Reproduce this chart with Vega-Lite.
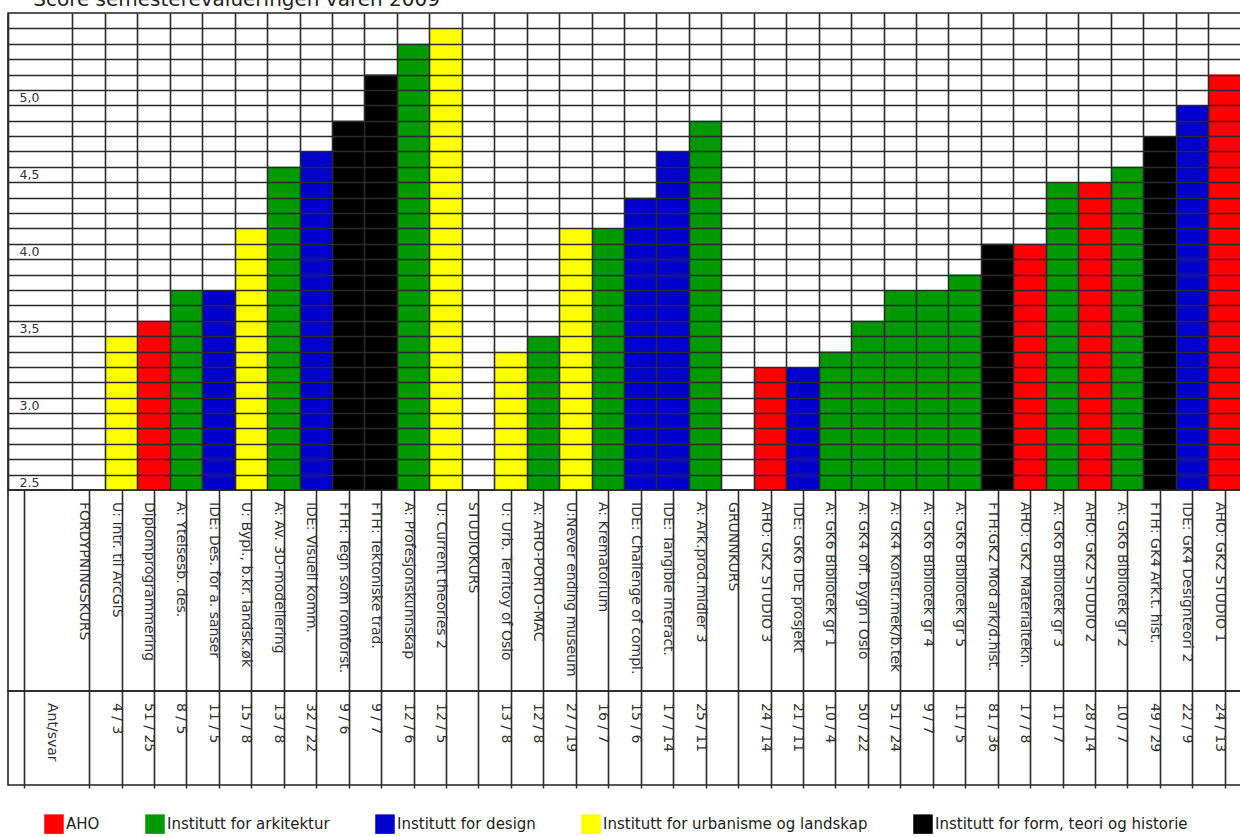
{
  "$schema": "https://vega.github.io/schema/vega-lite/v6.json",
  "padding": {"left": 7, "top": -10, "right": 0, "bottom": 0},
  "background": "white",
  "title": {"text": "Score semesterevalueringen våren 2009", "anchor": "start", "fontSize": 20, "fontWeight": "normal", "font": "DejaVu Sans", "color": "#222", "baseline": "alphabetic", "offset": -14, "dx": 26},
  "data": {"values": [
    {"kurs": "_a"},
    {"kurs": "_b", "ant": "Ant/svar"},
    {"kurs": "FORDYPNINGSKURS"},
    {"kurs": "U: Intr. til ArcGIS", "inst": "Institutt for urbanisme og landskap", "score": 3.4, "ant": "4 / 3"},
    {"kurs": "Diplomprogrammering", "inst": "AHO", "score": 3.5, "ant": "51 / 25"},
    {"kurs": "A: Ytelsesb. des.", "inst": "Institutt for arkitektur", "score": 3.7, "ant": "8 / 5"},
    {"kurs": "IDE: Des. for a. sanser", "inst": "Institutt for design", "score": 3.7, "ant": "11 / 5"},
    {"kurs": "U: Bypl., b.kr. landsk.øk", "inst": "Institutt for urbanisme og landskap", "score": 4.1, "ant": "15 / 8"},
    {"kurs": "A: Av. 3D-modellering", "inst": "Institutt for arkitektur", "score": 4.5, "ant": "13 / 8"},
    {"kurs": "IDE: Visuell komm.", "inst": "Institutt for design", "score": 4.6, "ant": "32 / 22"},
    {"kurs": "FTH: Tegn som romforst.", "inst": "Institutt for form, teori og historie", "score": 4.8, "ant": "9 / 6"},
    {"kurs": "FTH: Tektoniske trad.", "inst": "Institutt for form, teori og historie", "score": 5.1, "ant": "9 / 7"},
    {"kurs": "A: Profesjonskunnskap", "inst": "Institutt for arkitektur", "score": 5.3, "ant": "12 / 6"},
    {"kurs": "U: Current theories 2", "inst": "Institutt for urbanisme og landskap", "score": 5.4, "ant": "12 / 5"},
    {"kurs": "STUDIOKURS"},
    {"kurs": "U: Urb. Territoy of Oslo", "inst": "Institutt for urbanisme og landskap", "score": 3.3, "ant": "13 / 8"},
    {"kurs": "A: AHO-PORTO-MAC", "inst": "Institutt for arkitektur", "score": 3.4, "ant": "12 / 8"},
    {"kurs": "U:Never ending museum", "inst": "Institutt for urbanisme og landskap", "score": 4.1, "ant": "27 / 19"},
    {"kurs": "A: Krematorium", "inst": "Institutt for arkitektur", "score": 4.1, "ant": "16 / 7"},
    {"kurs": "IDE: Challenge of compl.", "inst": "Institutt for design", "score": 4.3, "ant": "15 / 6"},
    {"kurs": "IDE: Tangible interact.", "inst": "Institutt for design", "score": 4.6, "ant": "17 / 14"},
    {"kurs": "A: Ark.prod.midler 3", "inst": "Institutt for arkitektur", "score": 4.8, "ant": "25 / 11"},
    {"kurs": "GRUNNKURS"},
    {"kurs": "AHO: GK2 STUDIO 3", "inst": "AHO", "score": 3.2, "ant": "24 / 14"},
    {"kurs": "IDE: GK6 IDE prosjekt", "inst": "Institutt for design", "score": 3.2, "ant": "21 / 11"},
    {"kurs": "A: GK6 Bibliotek gr 1", "inst": "Institutt for arkitektur", "score": 3.3, "ant": "10 / 4"},
    {"kurs": "A: GK4 off. bygn i Oslo", "inst": "Institutt for arkitektur", "score": 3.5, "ant": "50 / 22"},
    {"kurs": "A: GK4 Konstr.mek/b.tek", "inst": "Institutt for arkitektur", "score": 3.7, "ant": "51 / 24"},
    {"kurs": "A: GK6 Bibliotek gr 4", "inst": "Institutt for arkitektur", "score": 3.7, "ant": "9 / 7"},
    {"kurs": "A: GK6 Bibliotek gr 5", "inst": "Institutt for arkitektur", "score": 3.8, "ant": "11 / 5"},
    {"kurs": "FTH:GK2 Mod ark/d.hist.", "inst": "Institutt for form, teori og historie", "score": 4.0, "ant": "81 / 36"},
    {"kurs": "AHO: GK2 Materialtekn.", "inst": "AHO", "score": 4.0, "ant": "17 / 8"},
    {"kurs": "A: GK6 Bibliotek gr 3", "inst": "Institutt for arkitektur", "score": 4.4, "ant": "11 / 7"},
    {"kurs": "AHO: GK2 STUDIO 2", "inst": "AHO", "score": 4.4, "ant": "28 / 14"},
    {"kurs": "A: GK6 Bibliotek gr 2", "inst": "Institutt for arkitektur", "score": 4.5, "ant": "10 / 7"},
    {"kurs": "FTH: GK4 Ark.t. hist.", "inst": "Institutt for form, teori og historie", "score": 4.7, "ant": "49 / 29"},
    {"kurs": "IDE: GK4 Designteori 2", "inst": "Institutt for design", "score": 4.9, "ant": "22 / 9"},
    {"kurs": "AHO: GK2 STUDIO 1", "inst": "AHO", "score": 5.1, "ant": "24 / 13"}
  ]},
  "spacing": 0,
  "bounds": "flush",
  "vconcat": [
    {
      "width": 1233,
      "height": 477,
      "mark": {"type": "bar"},
      "encoding": {
        "x": {"field": "kurs", "type": "nominal", "sort": null,
          "scale": {"domain": ["_a", "_b", "FORDYPNINGSKURS", "U: Intr. til ArcGIS", "Diplomprogrammering", "A: Ytelsesb. des.", "IDE: Des. for a. sanser", "U: Bypl., b.kr. landsk.øk", "A: Av. 3D-modellering", "IDE: Visuell komm.", "FTH: Tegn som romforst.", "FTH: Tektoniske trad.", "A: Profesjonskunnskap", "U: Current theories 2", "STUDIOKURS", "U: Urb. Territoy of Oslo", "A: AHO-PORTO-MAC", "U:Never ending museum", "A: Krematorium", "IDE: Challenge of compl.", "IDE: Tangible interact.", "A: Ark.prod.midler 3", "GRUNNKURS", "AHO: GK2 STUDIO 3", "IDE: GK6 IDE prosjekt", "A: GK6 Bibliotek gr 1", "A: GK4 off. bygn i Oslo", "A: GK4 Konstr.mek/b.tek", "A: GK6 Bibliotek gr 4", "A: GK6 Bibliotek gr 5", "FTH:GK2 Mod ark/d.hist.", "AHO: GK2 Materialtekn.", "A: GK6 Bibliotek gr 3", "AHO: GK2 STUDIO 2", "A: GK6 Bibliotek gr 2", "FTH: GK4 Ark.t. hist.", "IDE: GK4 Designteori 2", "AHO: GK2 STUDIO 1"], "paddingInner": 0, "paddingOuter": 0},
          "axis": {"title": null, "bandPosition": 0, "grid": true, "labels": false, "ticks": false, "domain": false, "zindex": 1, "gridWidth": 1.6, "gridOpacity": 1,
            "gridColor": {"condition": {"test": "datum.value === '_b'", "value": "transparent"}, "value": "#2a2a2a"}}},
        "y": {"field": "score", "type": "quantitative",
          "scale": {"domain": [2.4, 5.5], "zero": false, "nice": false},
          "axis": {"title": null, "values": [2.5, 2.6, 2.7, 2.8, 2.9, 3.0, 3.1, 3.2, 3.3, 3.4, 3.5, 3.6, 3.7, 3.8, 3.9, 4.0, 4.1, 4.2, 4.3, 4.4, 4.5, 4.6, 4.7, 4.8, 4.9, 5.0, 5.1, 5.2, 5.3, 5.4],
            "grid": true, "gridColor": "#2a2a2a", "gridWidth": 1.6, "gridOpacity": 1, "ticks": false, "domain": false, "zindex": 1,
            "labelAlign": "left", "labelBaseline": "top", "labelPadding": -11, "labelOffset": 1.5, "labelFontSize": 12.5, "labelColor": "#333333", "labelFont": "DejaVu Sans", "labelOverlap": false, "labelFlush": false,
            "labelExpr": "datum.value == 5 ? '5,0' : datum.value == 4.5 ? '4,5' : datum.value == 4 ? '4.0' : datum.value == 3.5 ? '3,5' : datum.value == 3 ? '3.0' : datum.value == 2.5 ? '2.5' : ''"}},
        "y2": {"datum": 2.4},
        "color": {"field": "inst", "type": "nominal",
          "scale": {"domain": ["AHO", "Institutt for arkitektur", "Institutt for design", "Institutt for urbanisme og landskap", "Institutt for form, teori og historie"],
                    "range": ["#ff0000", "#009900", "#0000cc", "#ffff00", "#000000"]},
          "legend": {"title": null, "orient": "none", "direction": "horizontal", "legendX": 36, "legendY": 801,
            "symbolType": "square", "symbolSize": 380, "symbolStrokeWidth": 0, "symbolOpacity": 1,
            "labelFontSize": 15, "labelFont": "DejaVu Sans", "labelColor": "#222222", "labelOffset": 2, "columnPadding": 45, "labelLimit": 400}}
      }
    },
    {
      "width": 1233,
      "height": 201,
      "transform": [{"filter": "datum.kurs !== '_a' && datum.kurs !== '_b'"}],
      "mark": {"type": "text", "angle": 90, "align": "left", "baseline": "middle", "dx": 12, "dy": 5, "fontSize": 14, "font": "DejaVu Sans", "color": "#333333"},
      "encoding": {
        "x": {"field": "kurs", "type": "nominal", "sort": null,
          "scale": {"domain": ["_a", "_b", "FORDYPNINGSKURS", "U: Intr. til ArcGIS", "Diplomprogrammering", "A: Ytelsesb. des.", "IDE: Des. for a. sanser", "U: Bypl., b.kr. landsk.øk", "A: Av. 3D-modellering", "IDE: Visuell komm.", "FTH: Tegn som romforst.", "FTH: Tektoniske trad.", "A: Profesjonskunnskap", "U: Current theories 2", "STUDIOKURS", "U: Urb. Territoy of Oslo", "A: AHO-PORTO-MAC", "U:Never ending museum", "A: Krematorium", "IDE: Challenge of compl.", "IDE: Tangible interact.", "A: Ark.prod.midler 3", "GRUNNKURS", "AHO: GK2 STUDIO 3", "IDE: GK6 IDE prosjekt", "A: GK6 Bibliotek gr 1", "A: GK4 off. bygn i Oslo", "A: GK4 Konstr.mek/b.tek", "A: GK6 Bibliotek gr 4", "A: GK6 Bibliotek gr 5", "FTH:GK2 Mod ark/d.hist.", "AHO: GK2 Materialtekn.", "A: GK6 Bibliotek gr 3", "AHO: GK2 STUDIO 2", "A: GK6 Bibliotek gr 2", "FTH: GK4 Ark.t. hist.", "IDE: GK4 Designteori 2", "AHO: GK2 STUDIO 1"], "paddingInner": 0, "paddingOuter": 0},
          "axis": {"title": null, "bandPosition": 0, "grid": true, "labels": false, "ticks": false, "domain": false, "gridWidth": 1.6, "gridOpacity": 1,
            "gridColor": {"condition": {"test": "datum.value === '_b'", "value": "transparent"}, "value": "#2a2a2a"}}},
        "y": {"datum": 1, "type": "quantitative", "scale": {"domain": [0, 1]}, "axis": null},
        "text": {"field": "kurs"}
      }
    },
    {
      "width": 1233,
      "height": 94,
      "transform": [{"filter": "isValid(datum.ant)"}],
      "mark": {"type": "text", "angle": 90, "align": "left", "baseline": "middle", "dx": 12, "dy": 5, "fontSize": 14, "font": "DejaVu Sans", "color": "#333333"},
      "encoding": {
        "x": {"field": "kurs", "type": "nominal", "sort": null,
          "scale": {"domain": ["_a", "_b", "FORDYPNINGSKURS", "U: Intr. til ArcGIS", "Diplomprogrammering", "A: Ytelsesb. des.", "IDE: Des. for a. sanser", "U: Bypl., b.kr. landsk.øk", "A: Av. 3D-modellering", "IDE: Visuell komm.", "FTH: Tegn som romforst.", "FTH: Tektoniske trad.", "A: Profesjonskunnskap", "U: Current theories 2", "STUDIOKURS", "U: Urb. Territoy of Oslo", "A: AHO-PORTO-MAC", "U:Never ending museum", "A: Krematorium", "IDE: Challenge of compl.", "IDE: Tangible interact.", "A: Ark.prod.midler 3", "GRUNNKURS", "AHO: GK2 STUDIO 3", "IDE: GK6 IDE prosjekt", "A: GK6 Bibliotek gr 1", "A: GK4 off. bygn i Oslo", "A: GK4 Konstr.mek/b.tek", "A: GK6 Bibliotek gr 4", "A: GK6 Bibliotek gr 5", "FTH:GK2 Mod ark/d.hist.", "AHO: GK2 Materialtekn.", "A: GK6 Bibliotek gr 3", "AHO: GK2 STUDIO 2", "A: GK6 Bibliotek gr 2", "FTH: GK4 Ark.t. hist.", "IDE: GK4 Designteori 2", "AHO: GK2 STUDIO 1"], "paddingInner": 0, "paddingOuter": 0},
          "axis": {"title": null, "orient": "bottom", "bandPosition": 0, "grid": true, "labels": false, "ticks": true, "tickSize": 3, "tickWidth": 1.5, "domain": false, "gridWidth": 1.6, "gridOpacity": 1,
            "gridColor": {"condition": {"test": "datum.value === '_b'", "value": "transparent"}, "value": "#2a2a2a"},
            "tickColor": {"condition": {"test": "datum.value === '_b'", "value": "transparent"}, "value": "#2a2a2a"}}},
        "y": {"datum": 1, "type": "quantitative", "scale": {"domain": [0, 1]}, "axis": null},
        "text": {"field": "ant"}
      }
    }
  ],
  "config": {
    "view": {"stroke": "#222222", "strokeWidth": 1.6},
    "font": "DejaVu Sans"
  }
}
